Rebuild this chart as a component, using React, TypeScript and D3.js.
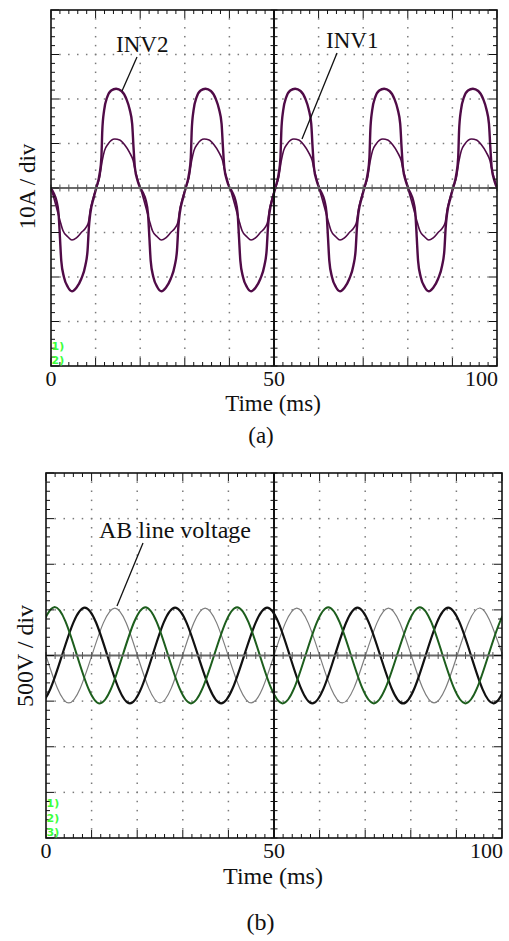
import React from 'react';
import * as d3 from 'd3';

// ---------- data ----------
const timeTickValues = [0, 50, 100];
const timeTickLabels = ['0', '50', '100'];

// current panel: one cycle of each inverter current (ms offset within cycle, divisions)
const currentCycleStarts = [0, 20.05, 40.15, 60.1, 80.0];
const inv2Cycle: [number, number][] = [
  [0, 0], [0.6, -0.12], [1.2, -0.28], [1.7, -0.58], [2.0, -1.1], [2.3, -1.63], [2.9, -2.0],
  [3.8, -2.23], [4.7, -2.32], [5.7, -2.24], [6.8, -2.04], [7.7, -1.74], [8.2, -1.4],
  [8.5, -0.88], [8.8, -0.58], [9.6, -0.21], [10.2, 0.02], [10.9, 0.32], [11.3, 0.69],
  [11.5, 1.29], [11.9, 1.74], [12.6, 2.04], [13.5, 2.19], [14.6, 2.23], [15.8, 2.18],
  [16.9, 2.0], [17.6, 1.78], [18.2, 1.44], [18.5, 0.92], [18.8, 0.47], [19.4, 0.17], [20, 0],
];
const inv1Cycle: [number, number][] = [
  [0, 0], [0.8, -0.28], [1.6, -0.58], [2.2, -0.8], [2.7, -0.96], [3.8, -1.1], [4.7, -1.17],
  [5.7, -1.12], [6.8, -1.0], [7.9, -0.88], [8.4, -0.77], [8.8, -0.5], [9.4, -0.24],
  [10.2, 0.02], [10.9, 0.24], [11.5, 0.62], [12.0, 0.84], [12.8, 0.99], [14.3, 1.1],
  [15.4, 1.08], [16.5, 0.97], [17.6, 0.8], [18.4, 0.62], [18.9, 0.39], [19.5, 0.17], [20, 0],
];

// voltage panel: extrema and zero crossings of the three line voltages (ms, divisions)
const voltGreen: [number, number][] = [
  [-8.2, -1.05], [-3.2, 0], [1.8, 1.06], [6.8, 0], [11.8, -1.05], [16.8, 0], [21.8, 1.06],
  [26.8, 0], [31.8, -1.05], [36.85, 0], [41.9, 1.06], [46.9, 0], [51.9, -1.05], [56.9, 0],
  [61.9, 1.06], [66.9, 0], [71.9, -1.05], [76.95, 0], [82.0, 1.06], [87.0, 0], [92.0, -1.05],
  [97.0, 0], [102.0, 1.06], [107.0, 0],
];
const voltBlack: [number, number][] = [
  [-6.5, 0], [-1.5, -1.05], [3.5, 0], [8.5, 1.05], [13.45, 0], [18.4, -1.05], [23.35, 0],
  [28.3, 1.05], [33.35, 0], [38.4, -1.05], [43.45, 0], [48.5, 1.05], [53.45, 0], [58.4, -1.05],
  [63.35, 0], [68.3, 1.05], [73.3, 0], [78.3, -1.05], [83.25, 0], [88.2, 1.05], [93.2, 0],
  [98.2, -1.05], [103.2, 0], [108.2, 1.05],
];
const voltAB: [number, number][] = [
  [-10, 0], [-5, 1.04], [0, 0], [5.0, -1.04], [10.05, 0], [15.1, 1.04], [20.05, 0], [25.0, -1.04],
  [29.95, 0], [34.9, 1.04], [39.95, 0], [45.0, -1.04], [50, 0], [55.0, 1.04], [60, 0],
  [65.0, -1.04], [70.05, 0], [75.1, 1.04], [80.1, 0], [85.1, -1.04], [90.15, 0], [95.2, 1.04],
  [100.2, 0], [105.2, -1.04],
];

const FONT = '"Liberation Serif", "Times New Roman", serif';
const PURPLE = '#500b47';

type PanelProps = {
  id: string;
  left: number;
  top: number;
  width: number;
  height: number;
  fontSize: number;
  children: (x: d3.ScaleLinear<number, number>, y: d3.ScaleLinear<number, number>) => React.ReactNode;
  markers: string[];
};

function Panel({ id, left, top, width, height, fontSize, children, markers }: PanelProps) {
  const x = d3.scaleLinear().domain([0, 100]).range([left, left + width]);
  const y = d3.scaleLinear().domain([-4, 4]).range([top + height, top]);
  const minorX = d3.range(0, 100.001, 2);
  const minorY = d3.range(-4, 4.001, 0.2).map((v) => Math.round(v * 10) / 10);
  const majorX = d3.range(10, 100, 10).filter((t) => t !== 50);
  const majorY = d3.range(-3, 4, 1).filter((v) => v !== 0);
  const isMajorX = (t: number) => Math.abs(t / 10 - Math.round(t / 10)) < 1e-6;
  const isMajorY = (v: number) => Math.abs(v - Math.round(v)) < 1e-6;
  const dots: { cx: number; cy: number }[] = [];
  majorX.forEach((t) => minorY.forEach((v) => { if (Math.abs(v) < 3.99) dots.push({ cx: x(t), cy: y(v) }); }));
  majorY.forEach((v) => minorX.forEach((t) => { if (t > 0 && t < 100) dots.push({ cx: x(t), cy: y(v) }); }));
  const x0 = x(0), x1 = x(100), y0 = y(-4), y1 = y(4);
  const xc = x(50), yc = y(0);
  return (
    <g>
      <defs>
        <clipPath id={id}>
          <rect x={x0} y={y1} width={x1 - x0} height={y0 - y1} />
        </clipPath>
      </defs>
      {dots.map((d, i) => (
        <rect key={i} x={d.cx - 0.75} y={d.cy - 0.75} width={1.5} height={1.5} fill="#7a7a7a" />
      ))}
      <g clipPath={`url(#${id})`}>{children(x, y)}</g>
      {/* center lines */}
      <line x1={x0} x2={x1} y1={yc} y2={yc} stroke="#6a6a6a" strokeWidth={2} />
      {minorX.map((t) => (
        <line key={'hc' + t} x1={x(t)} x2={x(t)} y1={yc - 3.5} y2={yc + 3.5} stroke="#555" strokeWidth={1} />
      ))}
      <line x1={xc} x2={xc} y1={y1} y2={y0} stroke="#111" strokeWidth={2} />
      {minorY.map((v) => (
        <line key={'vc' + v} x1={xc - 3.5} x2={xc + 3.5} y1={y(v)} y2={y(v)} stroke="#111" strokeWidth={1} />
      ))}
      {/* edge ticks */}
      {minorX.map((t) => {
        const len = isMajorX(t) ? 8 : 4;
        return (
          <g key={'ex' + t}>
            <line x1={x(t)} x2={x(t)} y1={y1} y2={y1 + len} stroke="#111" strokeWidth={1} />
            <line x1={x(t)} x2={x(t)} y1={y0} y2={y0 - len} stroke="#111" strokeWidth={1} />
          </g>
        );
      })}
      {minorY.map((v) => {
        const len = isMajorY(v) ? 8 : 4;
        return (
          <g key={'ey' + v}>
            <line x1={x0} x2={x0 + len} y1={y(v)} y2={y(v)} stroke="#111" strokeWidth={1} />
            <line x1={x1} x2={x1 - len} y1={y(v)} y2={y(v)} stroke="#111" strokeWidth={1} />
          </g>
        );
      })}
      <rect x={x0} y={y1} width={x1 - x0} height={y0 - y1} fill="none" stroke="#111" strokeWidth={1.6} />
      {/* channel markers */}
      {markers.map((m, i) => (
        <text key={m} x={x0 + 0.5} y={y0 - 2 - (markers.length - 1 - i) * 14.3} fontFamily='"DejaVu Sans", sans-serif'
          fontWeight="bold" fontSize={11} fill="#3cff3c">{m}</text>
      ))}
      {/* tick labels */}
      {timeTickValues.map((t, i) => (
        <text key={'tl' + t} x={i === 2 ? x(t) + 1 : x(t)} y={y0 + 20} textAnchor={i === 2 ? 'end' : 'middle'}
          fontFamily={FONT} fontSize={22} fill="#111">{timeTickLabels[i]}</text>
      ))}
      <text x={x(50) - 1} y={y0 + (fontSize > 23 ? 46 : 45)} textAnchor="middle" fontFamily={FONT} fontSize={fontSize} fill="#111">Time (ms)</text>
    </g>
  );
}

export default function App() {
  const lineGen = (x: d3.ScaleLinear<number, number>, y: d3.ScaleLinear<number, number>, curve: d3.CurveFactory) =>
    d3.line<[number, number]>().x((d) => x(d[0])).y((d) => y(d[1])).curve(curve);

  return (
    <svg width={509} height={941} style={{ position: 'absolute', left: 0, top: 0, background: '#fff' }}>
      {/* panel (a) */}
      <Panel id="clipA" left={51} top={10} width={446} height={356} fontSize={23} markers={['1)', '2)']}>
        {(x, y) => {
          const lg = lineGen(x, y, d3.curveMonotoneX);
          return (
            <g>
              {currentCycleStarts.map((s) => (
                <path key={'i1' + s} d={lg(inv1Cycle.map((p) => [s + p[0], p[1]] as [number, number])) || ''}
                  fill="none" stroke={PURPLE} strokeWidth={1.6} strokeLinejoin="round" />
              ))}
              {currentCycleStarts.map((s) => (
                <path key={'i2' + s} d={lg(inv2Cycle.map((p) => [s + p[0], p[1]] as [number, number])) || ''}
                  fill="none" stroke={PURPLE} strokeWidth={2.4} strokeLinejoin="round" />
              ))}
            </g>
          );
        }}
      </Panel>
      <text x={27} y={186.5} transform="rotate(-90 27 186.5)" dy="0.35em" textAnchor="middle" fontFamily={FONT} fontSize={23} fill="#111">10A / div</text>
      <text x={116} y={52} fontFamily={FONT} fontSize={23} fill="#111">INV2</text>
      <line x1={137} y1={57} x2={122} y2={91} stroke="#111" strokeWidth={1.3} />
      <text x={326} y={48} fontFamily={FONT} fontSize={23} fill="#111">INV1</text>
      <line x1={337} y1={53} x2={302} y2={139} stroke="#111" strokeWidth={1.3} />
      <text x={261} y={443} textAnchor="middle" fontFamily={FONT} fontSize={23} fill="#111">(a)</text>

      {/* panel (b) */}
      <Panel id="clipB" left={46} top={473} width={456} height={365} fontSize={24} markers={['1)', '2)', '3)']}>
        {(x, y) => {
          const lg = lineGen(x, y, d3.curveNatural);
          return (
            <g>
              <path d={lg(voltAB) || ''} fill="none" stroke="#7d7d7d" strokeWidth={1.2} />
              <path d={lg(voltBlack) || ''} fill="none" stroke="#111" strokeWidth={2.2} />
              <path d={lg(voltGreen) || ''} fill="none" stroke="#1d5e1d" strokeWidth={2.0} />
            </g>
          );
        }}
      </Panel>
      <text x={25} y={656} transform="rotate(-90 25 656)" dy="0.35em" textAnchor="middle" fontFamily={FONT} fontSize={24} fill="#111">500V / div</text>
      <text x={99} y={538} fontFamily={FONT} fontSize={24} fill="#111">AB line voltage</text>
      <line x1={143} y1={543} x2={117} y2={606} stroke="#111" strokeWidth={1.3} />
      <text x={260.5} y={930} textAnchor="middle" fontFamily={FONT} fontSize={24} fill="#111">(b)</text>
    </svg>
  );
}
